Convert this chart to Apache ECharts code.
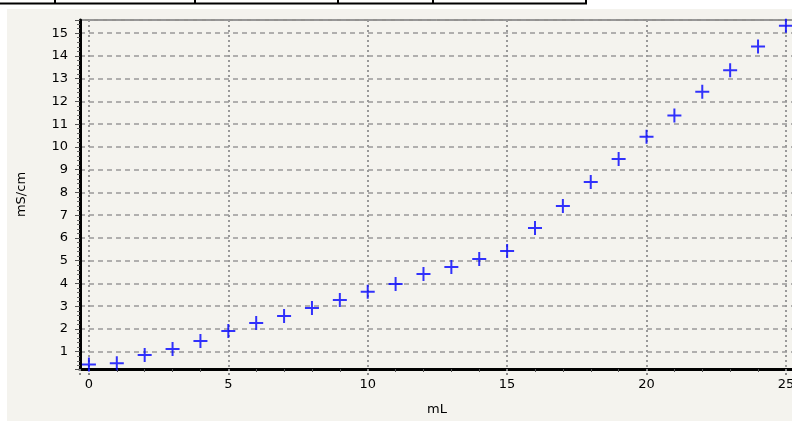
<!DOCTYPE html>
<html><head><meta charset="utf-8">
<script src="https://cdn.jsdelivr.net/npm/echarts@6/dist/echarts.min.js"></script>
<style>html,body{margin:0;padding:0;background:#fff}#c{width:792px;height:423px}</style>
</head><body><div id="c"></div>
<script>
const volumes = [0,1,2,3,4,5,6,7,8,9,10,11,12,13,14,15,16,17,18,19,20,21,22,23,24,25];
const conductivity = [0.44,0.49,0.85,1.12,1.47,1.91,2.26,2.57,2.92,3.27,3.63,3.98,4.42,4.72,5.08,5.43,6.44,7.41,8.46,9.47,10.45,11.38,12.43,13.37,14.41,15.33];
const xName = 'mL';
const yName = 'mS/cm';

const font = 'DejaVu Sans';
const chart = echarts.init(document.getElementById('c'), null, {renderer:'canvas'});
chart.setOption({
  animation:false,
  backgroundColor:'#fff',
  graphic:[
    {type:'rect', z:-10, shape:{x:7,y:9,width:785,height:412}, style:{fill:'#f4f3ee'}},
    {type:'line', shape:{x1:0,y1:3.5,x2:587,y2:3.5}, style:{stroke:'#000',lineWidth:2}},
    {type:'line', shape:{x1:55,y1:0,x2:55,y2:4}, style:{stroke:'#000',lineWidth:2}},
    {type:'line', shape:{x1:195,y1:0,x2:195,y2:4}, style:{stroke:'#000',lineWidth:2}},
    {type:'line', shape:{x1:338,y1:0,x2:338,y2:4}, style:{stroke:'#000',lineWidth:2}},
    {type:'line', shape:{x1:433,y1:0,x2:433,y2:4}, style:{stroke:'#000',lineWidth:2}},
    {type:'line', shape:{x1:586,y1:0,x2:586,y2:4}, style:{stroke:'#000',lineWidth:2}}
  ],
  grid:{left:80, top:20, right:-2, bottom:54, outerBoundsMode:'none', containLabel:false, show:true, borderColor:'#333', borderWidth:1, backgroundColor:'transparent'},
  xAxis:{
    type:'value', min:-0.32, max:25.29, splitNumber:5,
    name:xName, nameLocation:'middle', nameGap:34,
    nameTextStyle:{fontFamily:font,fontSize:13,color:'#000'},
    axisLine:{show:true,onZero:false,lineStyle:{color:'#000',width:3}},
    axisTick:{show:true,length:6,lineStyle:{color:'#888',type:[2,2],width:2}},
    minorTick:{show:true,splitNumber:5,length:3,lineStyle:{color:'#555',width:1}},
    axisLabel:{fontFamily:font,fontSize:13,color:'#000',margin:9,showMinLabel:false,showMaxLabel:false},
    splitLine:{show:true,lineStyle:{color:'#999',width:2,type:[2,3]}}
  },
  yAxis:{
    type:'value', min:0.24, max:15.58, splitNumber:15,
    name:yName, nameLocation:'middle', nameGap:52,
    nameTextStyle:{fontFamily:font,fontSize:13,color:'#000'},
    axisLine:{show:true,onZero:false,lineStyle:{color:'#000',width:3}},
    axisTick:{show:true,length:5,lineStyle:{color:'#555',width:1}},
    minorTick:{show:true,splitNumber:5,length:3,lineStyle:{color:'#666',width:1}},
    axisLabel:{fontFamily:font,fontSize:13,color:'#000',margin:12,showMinLabel:false,showMaxLabel:false},
    splitLine:{show:true,lineStyle:{color:'#999',width:1.5,type:[5,4]}}
  },
  series:[{
    type:'scatter',
    data:volumes.map((v,i)=>[v,conductivity[i]]),
    symbol:'path://M6,0H8V6H14V8H8V14H6V8H0V6H6Z',
    symbolSize:14,
    itemStyle:{color:'#0000ff'},
    clip:false,
    z:5
  }]
});
</script></body></html>
